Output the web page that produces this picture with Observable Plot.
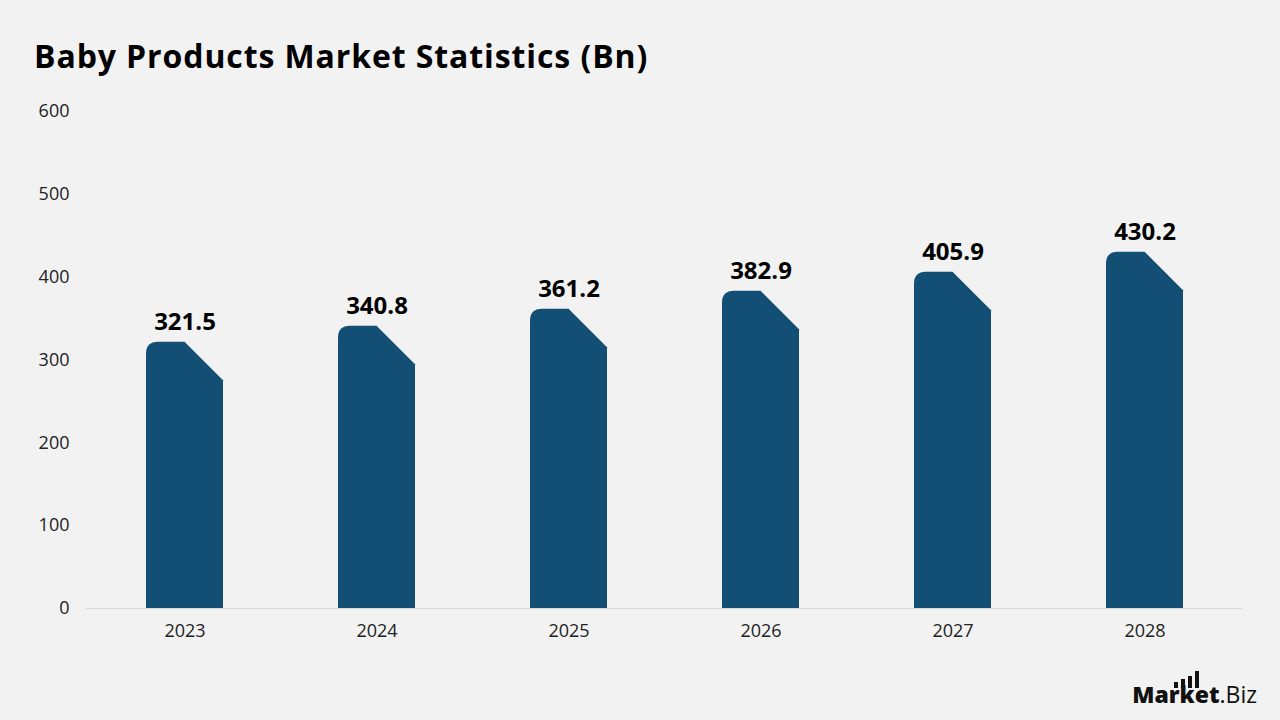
<!DOCTYPE html>
<html>
<head>
<meta charset="utf-8">
<script src="https://cdn.jsdelivr.net/npm/d3@7"></script>
<script src="https://cdn.jsdelivr.net/npm/@observablehq/plot@0.6"></script>
<style>
  html, body { margin: 0; padding: 0; background: #f2f2f2; width: 1280px; height: 720px; overflow: hidden; font-family: "Open Sans", sans-serif; }
  #title { height: 90px; position: relative; }
  #title h1 { position: absolute; left: 34px; top: 40px; margin: 0; font-size: 32px; font-weight: 700; color: #000; letter-spacing: 0.9px; line-height: 1; }
  #chart { position: absolute; left: 0; top: 90px; }
  #logo { position: absolute; right: 23px; bottom: 14px; font-family: "Open Sans", sans-serif; color: #111; font-size: 23px; line-height: 1; }
  #logo b { font-weight: 800; }
  #logo .bars { position: absolute; left: 42px; top: -12px; display: flex; align-items: flex-end; gap: 3px; }
  #logo .bars span { display: block; width: 4px; background: #111; }
</style>
</head>
<body>
<div id="title"><h1>Baby Products Market Statistics (Bn)</h1></div>
<div id="chart"></div>
<div id="logo"><div class="bars"><span style="height:6px"></span><span style="height:9px"></span><span style="height:12px"></span><span style="height:17px"></span></div><b>Market</b>.Biz</div>
<script>
const years = ["2023", "2024", "2025", "2026", "2027", "2028"];
const values = [321.5, 340.8, 361.2, 382.9, 405.9, 430.2];
const yTicks = [0, 100, 200, 300, 400, 500, 600];

const data = years.map((y, i) => ({year: y, value: values[i]}));

const plot = Plot.plot({
  width: 1280,
  height: 630,
  marginTop: 21,
  marginBottom: 112,
  marginLeft: 86,
  marginRight: 38,
  style: {background: "transparent", fontFamily: "Open Sans, sans-serif", color: "#222"},
  x: {domain: years, paddingInner: 0.6, paddingOuter: 0.3, label: null},
  y: {domain: [0, 600], ticks: yTicks, label: null},
  marks: [
    Plot.axisX({tickSize: 0, tickPadding: 16, fontSize: 18, label: null}),
    Plot.axisY({ticks: yTicks, tickSize: 0, tickPadding: 17, fontSize: 18, label: null}),
    Plot.ruleY([0], {stroke: "#d9d9d9", strokeWidth: 1}),
    Plot.barY(data, {x: "year", y: "value", fill: "#134f74"}),
    Plot.text(data, {x: "year", y: "value", text: d => d.value.toFixed(1), dy: -20, fontSize: 24, fontWeight: 700, fill: "#000"})
  ]
});

// Reshape bars: rounded top-left corner, flat top to centre, 45° cut down to the right edge
d3.select(plot).selectAll("g[aria-label='bar'] rect").each(function() {
  const r = d3.select(this);
  const x = +r.attr("x"), y = +r.attr("y"), w = +r.attr("width"), h = +r.attr("height");
  const rad = 12;
  const cx = x + w / 2;
  const p = `M${x},${y + h} L${x},${y + rad} Q${x},${y} ${x + rad},${y} L${cx},${y} L${x + w},${y + w / 2} L${x + w},${y + h} Z`;
  const parent = this.parentNode;
  d3.select(parent).append("path").attr("d", p).attr("fill", r.attr("fill") || "#134f74");
  r.remove();
});

document.getElementById("chart").appendChild(plot);
</script>
</body>
</html>
